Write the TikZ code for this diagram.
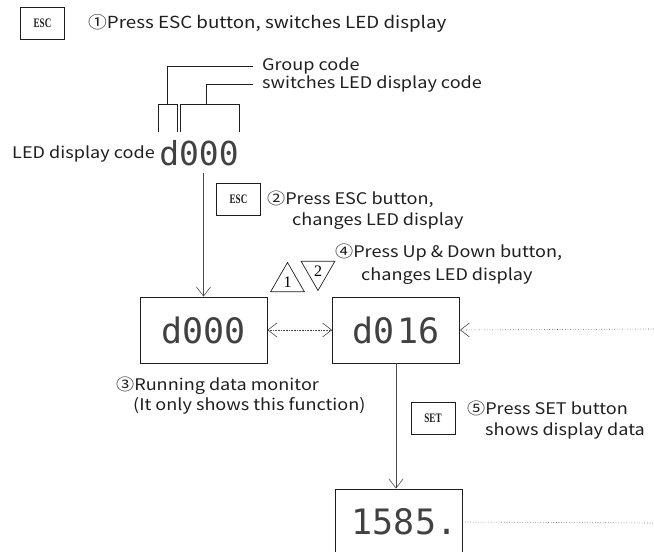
\documentclass[tikz,border=0pt]{standalone}
\usepackage{fontspec}
\setmainfont{Noto Sans CJK JP}[FakeStretch=1.13]
\newfontfamily\segfont{DejaVu Sans Mono}
\newfontfamily\keyfont{Liberation Serif}[FakeStretch=0.7]
\newfontfamily\trifont{Liberation Serif}
\usetikzlibrary{arrows.meta,positioning,calc,shapes.geometric}
\definecolor{Ink}{HTML}{1F1F1F}
\definecolor{Wire}{HTML}{4A4A4A}

\begin{document}
\begin{tikzpicture}[x=1pt,y=-1pt,
  note/.style={font=\fontsize{16}{18}\selectfont,text=Ink,inner sep=0pt},
  btn/.style={draw=Ink,line width=0.8pt,minimum width=44pt,minimum height=32pt,inner sep=0pt,font=\keyfont\bfseries\fontsize{13}{13}\selectfont,text=Ink},
  panel/.style={draw=Ink,line width=0.9pt,minimum width=127pt,minimum height=66pt,inner sep=0pt,font=\segfont\fontsize{35}{35}\selectfont,text=Ink!85},
  tri/.style={draw=Ink,line width=0.7pt,regular polygon,regular polygon sides=3,minimum size=39pt,inner sep=0pt,font=\trifont\fontsize{16}{16}\selectfont},
  flow/.style={draw=Wire,line width=0.6pt,-{Straight Barb[length=9pt,width=14pt]}},
  ]
\useasboundingbox (0,0) rectangle (654,552);
\clip (0,0) rectangle (654,552);
\fill[white] (0,0) rectangle (654,552);
% step 1
\node[btn] (esc1) at (42.5,23) {ESC};
\node[note,anchor=base west,font=\fontsize{16.6}{18}\selectfont] (s1) at (88,28) {①Press ESC button, switches LED display};
% display code and its parts
\node[font=\segfont\fontsize{33}{33}\selectfont,text=Ink!85,inner sep=0pt] (code) at (199,153) {d000};
\node[note,anchor=base east] (codelbl) at (155,158) {LED display code};
\node[note,anchor=west] (grp) at (262,66) {Group code};
\node[note,anchor=west] (swc) at (262,84) {switches LED display code};
\draw[Ink,line width=0.7pt] (158,132) -- (158,104) -- (177,104) -- (177,132);
\draw[Ink,line width=0.7pt] (180,132) -- (180,104) -- (239,104) -- (239,132);
\draw[Ink,line width=0.7pt] (167,104) |- ($(grp.west)+(-9,0)$);
\draw[Ink,line width=0.7pt] (206,104) |- ($(swc.west)+(-9,0)$);
% step 2
\node[btn] (esc2) at (238.5,199) {ESC};
\node[note,anchor=base west] (s2) at (267,204) {②Press ESC button,};
\node[note,anchor=base west] (s2b) at (292,225) {changes LED display};
% displays
\node[panel] (mon) at (203.5,330) {d000};
\node[panel] (sel) at (396,330) {d0\hspace{3pt}16};
\node[panel] (val) at (398.5,522) {\hspace*{12pt}1585.};
% step 4
\node[tri] (up) at (287.5,282) {1};
\node[tri,shape border rotate=180] (dn) at (318,271) {2};
\node[note,anchor=base west] (s4) at (335,257) {④Press Up \& Down button,};
\node[note,anchor=base west] (s4b) at (361,280) {changes LED display};
% step 3
\node[note,anchor=base west] (s3) at (116,390) {③Running data monitor};
\node[note,anchor=base west] (s3b) at (133,410) {(It only shows this function)};
% step 5
\node[btn] (set) at (433,418.5) {SET};
\node[note,anchor=base west] (s5) at (467,414) {⑤Press SET button};
\node[note,anchor=base west] (s5b) at (485,435) {shows display data};
% connectors
\coordinate (feedin) at (654,329);
\coordinate (feedout) at (654,523);
\draw[flow] ([yshift=-7pt]code.south -| mon.north) -- (mon.north);
\draw[flow,densely dotted,{Straight Barb[length=9pt,width=14pt]}-{Straight Barb[length=9pt,width=14pt]}] (mon.east) -- (sel.west);
\draw[flow,dotted] (feedin) -- (sel.east);
\draw[flow] (sel.south) -- (sel.south |- val.north);
\draw[Wire,line width=0.6pt,dotted] (val.east) -- (feedout);
\end{tikzpicture}
\end{document}
